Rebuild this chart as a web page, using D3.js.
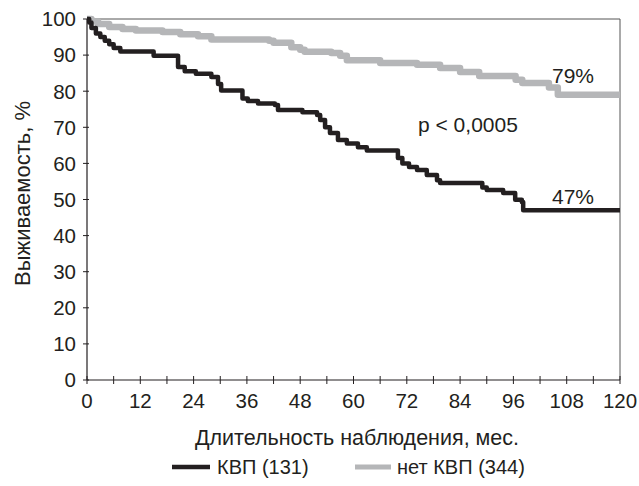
<!DOCTYPE html>
<html><head><meta charset="utf-8">
<script src="https://cdn.jsdelivr.net/npm/d3@7"></script>
<style>body{margin:0;background:#fff}svg{display:block}text{font-family:"Liberation Sans",Arial,sans-serif;fill:#231f20}</style>
</head><body>
<script>
const xTicks = [0,12,24,36,48,60,72,84,96,108,120];
const yTicks = [0,10,20,30,40,50,60,70,80,90,100];
const kvpT = [0,0.5,1,2,3,4,5,6,7.5,15,20.5,22,24.5,28,29.5,30.2,35,36.2,38.5,42.3,43,48.5,51.8,52.5,53.6,54.7,56.5,58.5,61,63,70,71,72.5,74.3,76.5,78.8,79.5,89,90,93.7,96.4,97.9,98.2,120];
const kvpV = [100,99,97.5,96,95,94,93,92,91,89.8,86.7,85.5,84.8,83.9,82,80.2,78,77.3,76.6,76.2,74.8,74.2,73.4,72,70,68.4,66.5,65.5,64.5,63.6,61.5,60,59,58.2,56.8,55.3,54.6,53.3,52.6,51.8,49.9,49.3,47,47];
const noKvpT = [0,1,2.5,5,8,11,17,21,25,28,41,42,46,48,49,55,57,58.5,66,74.3,79.5,84,88.3,96.5,98,104,106,120];
const noKvpV = [100,99.3,98.6,97.8,97.2,96.8,96.4,95.8,95.2,94.3,94,93.4,92.2,91.5,90.9,90.6,89.8,88.6,87.8,87.3,86.4,85.3,84.2,83.2,82.3,81,79,79];
const seriesNames = ["КВП (131)","нет КВП (344)"];
const endLabels = ["47%","79%"];
const pLabel = "p < 0,0005";
const xTitle = "Длительность наблюдения, мес.";
const yTitle = "Выживаемость, %";

const W=639,H=486;
const svg=d3.select("body").append("svg").attr("width",W).attr("height",H);
const x=d3.scaleLinear().domain([0,120]).range([87,620]);
const y=d3.scaleLinear().domain([0,100]).range([380,19]);
const fs=20.5;

// frame
svg.append("path").attr("d",`M${x(0)},${y(100)}H${x(120)}V${y(0)}`).attr("fill","none").attr("stroke","#555").attr("stroke-width",1);

// axes
const gx=svg.append("g").attr("transform",`translate(0,${y(0)})`);
gx.append("line").attr("x1",x(0)).attr("x2",x(120)).attr("stroke","#231f20").attr("stroke-width",1.2);
gx.selectAll(".t").data(d3.range(0,121,6)).join("line").attr("x1",d=>x(d)).attr("x2",d=>x(d)).attr("y1",-4).attr("y2",4).attr("stroke","#231f20");
gx.selectAll("text").data(xTicks).join("text").attr("x",d=>x(d)).attr("y",28).attr("text-anchor","middle").attr("font-size",fs).text(d=>d);

const gy=svg.append("g").attr("transform",`translate(${x(0)},0)`);
gy.append("line").attr("y1",y(0)).attr("y2",y(100)).attr("stroke","#231f20").attr("stroke-width",1.2);
gy.selectAll(".t").data(yTicks).join("line").attr("x1",-4).attr("x2",2).attr("y1",d=>y(d)).attr("y2",d=>y(d)).attr("stroke","#231f20");
gy.selectAll("text").data(yTicks).join("text").attr("x",-11).attr("y",d=>y(d)).attr("dy","0.36em").attr("text-anchor","end").attr("font-size",fs).text(d=>d);

svg.append("text").attr("x",357).attr("y",445).attr("text-anchor","middle").attr("font-size",21.5).text(xTitle);
svg.append("text").attr("transform",`translate(30,${(y(0)+y(100))/2-6}) rotate(-90)`).attr("text-anchor","middle").attr("font-size",22).text(yTitle);

const line=d3.line().x(d=>x(d[0])).y(d=>y(d[1])).curve(d3.curveStepAfter);
const grayData=noKvpT.map((t,i)=>[t,noKvpV[i]]);
const blackData=kvpT.map((t,i)=>[t,kvpV[i]]);
svg.append("path").datum(grayData).attr("d",line).attr("fill","none").attr("stroke","#b5b6b8").attr("stroke-width",6.5).attr("stroke-linejoin","round");
svg.append("path").datum(blackData).attr("d",line).attr("fill","none").attr("stroke","#231f20").attr("stroke-width",4.5).attr("stroke-linejoin","round");

svg.append("text").attr("x",552).attr("y",204).attr("font-size",21).text(endLabels[0]);
svg.append("text").attr("x",552).attr("y",83).attr("font-size",21).text(endLabels[1]);
svg.append("text").attr("x",418).attr("y",132).attr("font-size",21).text(pLabel);

// legend
const leg=[{c:"#231f20",w:4.5,x1:172,x2:210,tx:217},{c:"#b5b6b8",w:5,x1:355,x2:391,tx:397}];
leg.forEach((l,i)=>{
  svg.append("line").attr("x1",l.x1).attr("x2",l.x2).attr("y1",467).attr("y2",467).attr("stroke",l.c).attr("stroke-width",l.w);
  svg.append("text").attr("x",l.tx).attr("y",467).attr("dy","0.36em").attr("font-size",20).text(seriesNames[i]);
});
</script>
</body></html>
